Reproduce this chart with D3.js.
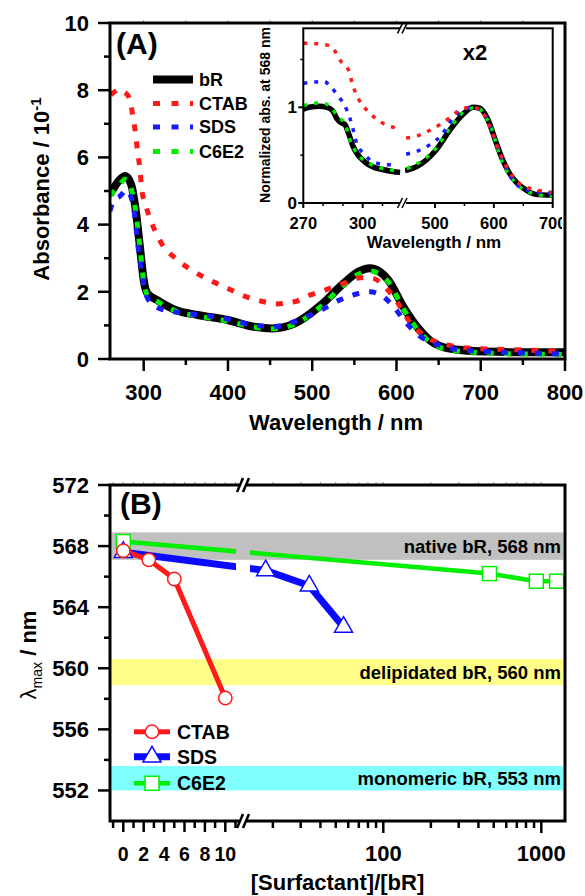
<!DOCTYPE html>
<html>
<head>
<meta charset="utf-8">
<script src="https://cdn.jsdelivr.net/npm/d3@7"></script>
<style>
  body { margin: 0; background: #fff; }
  svg text { font-family: "Liberation Sans", Arial, sans-serif; font-weight: bold; fill: #000; }
</style>
</head>
<body>
<div id="chart"></div>
<script>
// ---- panel A: absorbance spectra [wavelength nm, absorbance x10]
const bRSpectrum = [[260,4.9],[266,5.15],[272,5.35],[278,5.45],[285,5.2],[291,4.34],[295.5,3.34],[300,2.35],[304.4,1.95],[315.5,1.76],[337.7,1.46],[364.3,1.31],[399.7,1.16],[430.7,0.96],[453,0.91],[479.5,1.06],[510.6,1.61],[537.2,2.25],[555,2.6],[568.2,2.7],[580,2.6],[590.3,2.35],[608,1.56],[626,0.91],[639,0.57],[661.3,0.32],[705.5,0.22],[750,0.2],[800,0.2]];
const ctabSpectrum = [[261,7.86],[267,7.98],[272,8.03],[277,7.95],[282,7.81],[287,7.26],[289.7,6.82],[292.5,6.22],[295.6,5.63],[297.7,5.05],[302,4.6],[306.7,4.24],[320,3.49],[340,2.95],[360,2.6],[378,2.35],[400,2.1],[422,1.85],[440,1.72],[457,1.64],[480,1.71],[497,1.9],[515,2.05],[537,2.25],[557,2.42],[572,2.4],[586,2.15],[599,1.76],[617,1.06],[635,0.66],[661,0.42],[688,0.32],[750,0.27],[800,0.22]];
const sdsSpectrum = [[260,4.4],[264,4.7],[272,4.85],[279.8,5.03],[282.2,4.98],[288.9,4.34],[293.3,3.34],[296.8,2.75],[302.2,1.95],[311,1.61],[324,1.46],[351,1.36],[395,1.21],[431,1.01],[453,0.96],[484,1.16],[510.6,1.46],[532.8,1.76],[555,1.95],[568,2.0],[581.5,1.9],[594.8,1.61],[610.4,1.11],[626,0.71],[643.5,0.47],[670,0.29],[705,0.22],[750,0.18],[800,0.15]];
const c6e2Spectrum = [[260,4.85],[270,5.15],[278,5.35],[284,5.15],[291,4.3],[295.5,3.3],[300,2.3],[304.4,1.9],[315.5,1.72],[337.7,1.43],[364.3,1.28],[399.7,1.13],[430.7,0.95],[453,0.9],[479.5,1.04],[510.6,1.57],[537.2,2.2],[555,2.52],[568.2,2.62],[580,2.52],[590.3,2.3],[608,1.5],[626,0.85],[639,0.52],[661.3,0.28],[705.5,0.18],[750,0.15],[800,0.13]];

// ---- inset: normalized spectra, short (x2) and long wavelength parts
const bRInsetUV = [[270,0.98],[273,1.0],[278,1.01],[282,1.0],[285,0.96],[287,0.88],[289,0.84],[291,0.82],[293,0.72],[295,0.6],[297,0.52],[300,0.45],[303,0.4],[306,0.37],[310,0.35],[315,0.33],[319,0.32]];
const bRInsetVis = [[449,0.34],[469,0.38],[500,0.54],[525,0.76],[548,0.93],[565,1.0],[576,0.99],[590,0.87],[604,0.63],[615,0.45],[632,0.26],[649,0.16],[671,0.09],[700,0.08]];
const ctabInsetUV = [[270,1.67],[273,1.67],[278.5,1.66],[283.8,1.64],[289,1.48],[293,1.38],[294.2,1.29],[295.5,1.2],[297.8,1.09],[300.8,1.0],[304.5,0.92],[309.5,0.84],[315.5,0.79],[319,0.76]];
const ctabInsetVis = [[451,0.68],[469,0.7],[491.6,0.76],[508.5,0.82],[525,0.89],[545,0.98],[562,1.0],[576,0.98],[593,0.8],[610,0.52],[632,0.28],[649,0.18],[671,0.14],[700,0.11]];
const sdsInsetUV = [[270,1.25],[273.4,1.26],[280.5,1.27],[283.5,1.22],[287.2,1.13],[292.2,0.96],[294.4,0.83],[297,0.62],[300.3,0.52],[305.4,0.43],[312,0.4],[317,0.4]];
const sdsInsetVis = [[451,0.51],[469,0.54],[491.6,0.61],[511,0.71],[531,0.89],[548,0.97],[565,1.0],[581,0.95],[598,0.73],[615,0.45],[632,0.24],[654,0.14],[700,0.1]];
const c6e2InsetUV = [[270,1.02],[273.4,1.03],[279.2,1.05],[284.3,0.99],[287.6,0.9],[291,0.83],[293.6,0.66],[297,0.52],[302,0.43],[307,0.38],[315.5,0.34],[319,0.33]];
const c6e2InsetVis = [[452,0.36],[500,0.56],[525,0.78],[548,0.95],[570,1.0],[593,0.82],[615,0.42],[637,0.21],[666,0.1],[700,0.07]];

// ---- panel B: lambda max vs [surfactant]/[bR]
const ctabRatio = [0, 2.5, 5, 10];
const ctabLambda = [567.7, 567.1, 565.85, 558.05];
const sdsRatio = [0, 18, 34, 56];
const sdsLambda = [567.6, 566.4, 565.4, 562.7];
const c6e2Ratio = [0, 470, 930, 1250];
const c6e2Lambda = [568.3, 566.2, 565.7, 565.7];

const bands = [
  { lo: 567.1, hi: 568.9, color: "#c0c0c0", label: "native bR, 568 nm" },
  { lo: 558.9, hi: 560.6, color: "#ffff88", label: "delipidated bR, 560 nm" },
  { lo: 552.0, hi: 553.6, color: "#80ffff", label: "monomeric bR, 553 nm" },
];

const aTicks = [0, 2, 4, 6, 8, 10];
const aXTicks = [300, 400, 500, 600, 700, 800];
const bYTicks = [552, 556, 560, 564, 568, 572];
const bLinTicks = [0, 2, 4, 6, 8, 10];
const bLogTicks = [100, 1000];

const width = 585, height = 896;
const svg = d3.select("#chart").append("svg").attr("width", width).attr("height", height);

const line = (xs, ys) => d3.line().x((d) => xs(d[0])).y((d) => ys(d[1])).curve(d3.curveMonotoneX);

function ticks(g, values, scale, orient, pos, size, width) {
  g.selectAll(null).data(values).join("line")
    .attr("x1", (d) => orient === "x" ? scale(d) : pos)
    .attr("x2", (d) => orient === "x" ? scale(d) : pos - size)
    .attr("y1", (d) => orient === "x" ? pos : scale(d))
    .attr("y2", (d) => orient === "x" ? pos + size : scale(d))
    .attr("stroke", "#000").attr("stroke-width", width || 2.5);
}

// ================= PANEL A =================
const A = { l: 110, r: 565, t: 23, b: 359 };
const ax = d3.scaleLinear().domain([260, 800]).range([A.l, A.r]);
const ay = d3.scaleLinear().domain([0, 10]).range([A.b, A.t]);

svg.append("clipPath").attr("id", "clipA").append("rect")
  .attr("x", A.l).attr("y", A.t).attr("width", A.r - A.l).attr("height", A.b - A.t);

const gA = svg.append("g");
const dataA = gA.append("g").attr("clip-path", "url(#clipA)");
dataA.append("path").datum(bRSpectrum).attr("d", line(ax, ay)).attr("fill", "none")
  .attr("stroke", "#000").attr("stroke-width", 8);
const dashed = [
  [c6e2Spectrum, "#00ee00"],
  [ctabSpectrum, "#ff1a1a"],
  [sdsSpectrum, "#1a1aff"],
];
dashed.forEach(([d, c]) => {
  dataA.append("path").datum(d).attr("d", line(ax, ay)).attr("fill", "none")
    .attr("stroke", c).attr("stroke-width", 5).attr("stroke-dasharray", "7,10");
});

// axes A
ticks(gA, aTicks, ay, "y", A.l, 12);
ticks(gA, [1, 3, 5, 7, 9], ay, "y", A.l, 6);
ticks(gA, aXTicks, ax, "x", A.b, 12);
ticks(gA, [350, 450, 550, 650, 750], ax, "x", A.b, 6);
gA.selectAll(null).data(d3.range(300, 800, 50)).join("line")
  .attr("x1", (d) => ax(d)).attr("x2", (d) => ax(d)).attr("y1", A.t).attr("y2", A.t - 3)
  .attr("stroke", "#999").attr("stroke-width", 1);
gA.selectAll(null).data(aTicks).join("text").attr("x", 89).attr("y", (d) => ay(d) + 7.8)
  .attr("text-anchor", "end").attr("font-size", 22).text((d) => d);
gA.selectAll(null).data(aXTicks).join("text").attr("x", (d) => ax(d)).attr("y", 399.5)
  .attr("text-anchor", "middle").attr("font-size", 22).text((d) => d);
gA.append("text").attr("x", 336).attr("y", 430).attr("text-anchor", "middle")
  .attr("font-size", 22).text("Wavelength / nm");
const aLab = gA.append("text").attr("transform", "translate(49,189) rotate(-90)")
  .attr("text-anchor", "middle").attr("font-size", 22);
aLab.append("tspan").text("Absorbance / 10");
aLab.append("tspan").attr("dy", -8).attr("font-size", 15).text("-1");

gA.append("text").attr("x", 116).attr("y", 54).attr("font-size", 30).text("(A)");

// legend A
const legA = [
  { name: "bR", color: "#000", w: 8, dash: null, y: 79.5 },
  { name: "CTAB", color: "#ff1a1a", w: 5, dash: "7,11.5", y: 103.5 },
  { name: "SDS", color: "#1a1aff", w: 5, dash: "7,11.5", y: 127 },
  { name: "C6E2", color: "#00ee00", w: 5, dash: "7,11.5", y: 151.5 },
];
legA.forEach((d) => {
  gA.append("line").attr("x1", 153).attr("x2", 193).attr("y1", d.y).attr("y2", d.y)
    .attr("stroke", d.color).attr("stroke-width", d.w).attr("stroke-dasharray", d.dash);
  gA.append("text").attr("x", 199).attr("y", d.y + 6.3).attr("font-size", 18).text(d.name);
});

// ================= INSET =================
const I = { l: 303.3, r: 552.7, t: 28.3, b: 203 };
const ixL = d3.scaleLinear().domain([270, 300]).range([I.l, 362.7]);
const ixR = d3.scaleLinear().domain([500, 700]).range([435, I.r]);
const iy = d3.scaleLinear().domain([0, 1]).range([I.b, 107.3]);

const gI = svg.append("g");
gI.append("rect").attr("x", I.l).attr("y", I.t).attr("width", I.r - I.l).attr("height", I.b - I.t)
  .attr("fill", "#fff");
svg.append("clipPath").attr("id", "clipIL").append("rect")
  .attr("x", I.l).attr("y", I.t).attr("width", 400.5 - I.l).attr("height", I.b - I.t);
svg.append("clipPath").attr("id", "clipIR").append("rect")
  .attr("x", 405).attr("y", I.t).attr("width", I.r - 405).attr("height", I.b - I.t);

const insetSets = [
  [bRInsetUV, bRInsetVis, "#000", 5.5, null],
  [c6e2InsetUV, c6e2InsetVis, "#00ee00", 3.5, "4,7"],
  [sdsInsetUV, sdsInsetVis, "#1a1aff", 3.5, "4,7"],
  [ctabInsetUV, ctabInsetVis, "#ff1a1a", 3.5, "4,7"],
];
insetSets.forEach(([uv, vis, c, w, dash]) => {
  gI.append("path").datum(uv).attr("clip-path", "url(#clipIL)").attr("d", line(ixL, iy))
    .attr("fill", "none").attr("stroke", c).attr("stroke-width", w).attr("stroke-dasharray", dash);
  gI.append("path").datum(vis).attr("clip-path", "url(#clipIR)").attr("d", line(ixR, iy))
    .attr("fill", "none").attr("stroke", c).attr("stroke-width", w).attr("stroke-dasharray", dash);
});
gI.append("rect").attr("x", I.l).attr("y", I.t).attr("width", I.r - I.l).attr("height", I.b - I.t)
  .attr("fill", "none").attr("stroke", "#000").attr("stroke-width", 2);

ticks(gI, [0, 1], iy, "y", I.l, 5, 2);
ticks(gI, [0.5, 1.5], iy, "y", I.l, 3, 1.5);
ticks(gI, [270, 300], ixL, "x", I.b, 5, 2);
ticks(gI, [280, 290, 310, 320], ixL, "x", I.b, 3, 1.5);
ticks(gI, [500, 600, 700], ixR, "x", I.b, 5, 2);
ticks(gI, [550, 650], ixR, "x", I.b, 3, 1.5);

// axis break marks on inset frame
[I.t, I.b].forEach((yb) => {
  gI.append("rect").attr("x", 400).attr("y", yb - 3).attr("width", 6).attr("height", 6).attr("fill", "#fff");
  [399.5, 404].forEach((xb) => {
    gI.append("line").attr("x1", xb - 2).attr("x2", xb + 3).attr("y1", yb + 5).attr("y2", yb - 5)
      .attr("stroke", "#000").attr("stroke-width", 1.5);
  });
});

svg.append("clipPath").attr("id", "clipILab").append("rect")
  .attr("x", 250).attr("y", 0).attr("width", 312).attr("height", 260);
const gIL = gI.append("g").attr("clip-path", "url(#clipILab)");
gIL.selectAll(null).data([0, 1]).join("text").attr("x", 297).attr("y", (d) => iy(d) + 6)
  .attr("text-anchor", "end").attr("font-size", 17).text((d) => d);
gIL.selectAll(null).data([270, 300]).join("text").attr("x", (d) => ixL(d)).attr("y", 229)
  .attr("text-anchor", "middle").attr("font-size", 16.5).text((d) => d);
gIL.selectAll(null).data([500, 600, 700]).join("text").attr("x", (d) => ixR(d)).attr("y", 229)
  .attr("text-anchor", "middle").attr("font-size", 16.5).text((d) => d);
gIL.append("text").attr("x", 434).attr("y", 248).attr("text-anchor", "middle")
  .attr("font-size", 17).text("Wavelength / nm");
gIL.append("text").attr("transform", "translate(270,115) rotate(-90)").attr("text-anchor", "middle")
  .attr("font-size", 14).text("Normalized abs. at 568 nm");
gIL.append("text").attr("x", 475).attr("y", 60).attr("text-anchor", "middle")
  .attr("font-size", 22).text("x2");

// frame A on top
gA.append("rect").attr("x", A.l).attr("y", A.t).attr("width", A.r - A.l).attr("height", A.b - A.t)
  .attr("fill", "none").attr("stroke", "#000").attr("stroke-width", 3);

// ================= PANEL B =================
const B = { l: 110, r: 565, t: 485, b: 821 };
const by = d3.scaleLinear().domain([550, 572]).range([B.b, B.t]);
const bxLin = d3.scaleLinear().domain([0, 10]).range([123.3, 225.3]);
const bxLog = d3.scaleLog().domain([100, 1000]).range([383.3, 541.3]);
const bx = (v) => (v <= 11.5 ? bxLin(v) : bxLog(v));
const breakX = 243;

const gB = svg.append("g");
bands.forEach((d) => {
  gB.append("rect").attr("x", B.l + 1.5).attr("y", by(d.hi)).attr("width", B.r - B.l - 3)
    .attr("height", by(d.lo) - by(d.hi)).attr("fill", d.color);
  gB.append("text").attr("x", 561).attr("y", (by(d.lo) + by(d.hi)) / 2 + 6.5)
    .attr("text-anchor", "end").attr("font-size", 18.5).text(d.label);
});

const clipB = svg.append("clipPath").attr("id", "clipB");
clipB.append("rect").attr("x", B.l).attr("y", B.t).attr("width", 236 - B.l).attr("height", B.b - B.t);
clipB.append("rect").attr("x", 250).attr("y", B.t).attr("width", B.r - 250).attr("height", B.b - B.t);

const series = [
  { name: "CTAB", xs: ctabRatio, ys: ctabLambda, color: "#ff1a1a", w: 5, sym: "circle" },
  { name: "SDS", xs: sdsRatio, ys: sdsLambda, color: "#0a0aff", w: 7, sym: "tri" },
  { name: "C6E2", xs: c6e2Ratio, ys: c6e2Lambda, color: "#00ee00", w: 4.5, sym: "square" },
];
const straight = d3.line().x((d) => bx(d[0])).y((d) => by(d[1]));

function marker(g, sym, color, x, y) {
  if (sym === "circle") {
    g.append("circle").attr("cx", x).attr("cy", y).attr("r", 6.7)
      .attr("fill", "#fff").attr("stroke", color).attr("stroke-width", 1.5);
  } else if (sym === "tri") {
    g.append("path").attr("d", d3.symbol(d3.symbolTriangle, 140)()).attr("transform", `translate(${x},${y})`)
      .attr("fill", "#fff").attr("stroke", color).attr("stroke-width", 1.5);
  } else {
    g.append("rect").attr("x", x - 7).attr("y", y - 7).attr("width", 14).attr("height", 14)
      .attr("fill", "#fff").attr("stroke", color).attr("stroke-width", 1.5);
  }
}

const linesB = gB.append("g").attr("clip-path", "url(#clipB)");
series.slice().reverse().forEach((s) => {
  const pts = s.xs.map((x, i) => [x, s.ys[i]]);
  linesB.append("path").datum(pts).attr("d", straight).attr("fill", "none")
    .attr("stroke", s.color).attr("stroke-width", s.w);
});
series.slice().reverse().forEach((s) => {
  s.xs.forEach((x, i) => marker(gB, s.sym, s.color, bx(x), by(s.ys[i])));
});

// legend B
const legBY = [731.7, 756.7, 783.3];
series.forEach((s, i) => {
  gB.append("line").attr("x1", 134).attr("x2", 170).attr("y1", legBY[i]).attr("y2", legBY[i])
    .attr("stroke", s.color).attr("stroke-width", s.w);
  marker(gB, s.sym, s.color, 152, legBY[i]);
  gB.append("text").attr("x", 177).attr("y", legBY[i] + 7).attr("font-size", 19.5).text(s.name);
});

// axes B
ticks(gB, bYTicks, by, "y", B.l, 12);
ticks(gB, [554, 558, 562, 566, 570], by, "y", B.l, 6);
ticks(gB, bLinTicks, bxLin, "x", B.b, 11);
ticks(gB, [-1, 1, 3, 5, 7, 9, 11], bxLin, "x", B.b, 7);
ticks(gB, bLogTicks, bxLog, "x", B.b, 12);
const logMinor = [20, 30, 40, 50, 60, 70, 80, 90, 200, 300, 400, 500, 600, 700, 800, 900];
ticks(gB, logMinor, bxLog, "x", B.b, 7);
const topTicks = d3.range(-1, 12).map(bxLin).concat(logMinor.map((d) => bxLog(d)), bLogTicks.map((d) => bxLog(d)));
gB.selectAll(null).data(topTicks).join("line")
  .attr("x1", (d) => d).attr("x2", (d) => d).attr("y1", B.t).attr("y2", B.t - 3)
  .attr("stroke", "#999").attr("stroke-width", 1);

gB.append("rect").attr("x", B.l).attr("y", B.t).attr("width", B.r - B.l).attr("height", B.b - B.t)
  .attr("fill", "none").attr("stroke", "#000").attr("stroke-width", 3);

// break marks on x axes
[B.t, B.b].forEach((yb) => {
  gB.append("rect").attr("x", breakX - 4).attr("y", yb - 3).attr("width", 8).attr("height", 6).attr("fill", "#fff");
  [breakX - 3, breakX + 3].forEach((xb) => {
    gB.append("line").attr("x1", xb - 3).attr("x2", xb + 3).attr("y1", yb + 7).attr("y2", yb - 7)
      .attr("stroke", "#000").attr("stroke-width", 2.5);
  });
});

gB.selectAll(null).data(bYTicks).join("text").attr("x", 89).attr("y", (d) => by(d) + 7.8)
  .attr("text-anchor", "end").attr("font-size", 22).text((d) => d);
gB.selectAll(null).data(bLinTicks).join("text").attr("x", (d) => bxLin(d)).attr("y", 860.5)
  .attr("text-anchor", "middle").attr("font-size", 19.5).text((d) => d);
gB.selectAll(null).data(bLogTicks).join("text").attr("x", (d) => bxLog(d)).attr("y", 861)
  .attr("text-anchor", "middle").attr("font-size", 22).text((d) => d);
gB.append("text").attr("x", 337.5).attr("y", 890).attr("text-anchor", "middle")
  .attr("font-size", 22).text("[Surfactant]/[bR]");

const bLab = gB.append("text").attr("transform", "translate(36,655) rotate(-90)")
  .attr("text-anchor", "middle").attr("font-size", 22);
bLab.append("tspan").attr("font-weight", "normal").text("λ");
bLab.append("tspan").attr("dy", 6).attr("font-size", 14).attr("font-weight", "normal").text("max");
bLab.append("tspan").attr("dy", -6).text(" / nm");

gB.append("text").attr("x", 120).attr("y", 514).attr("font-size", 30).text("(B)");
</script>
</body>
</html>
